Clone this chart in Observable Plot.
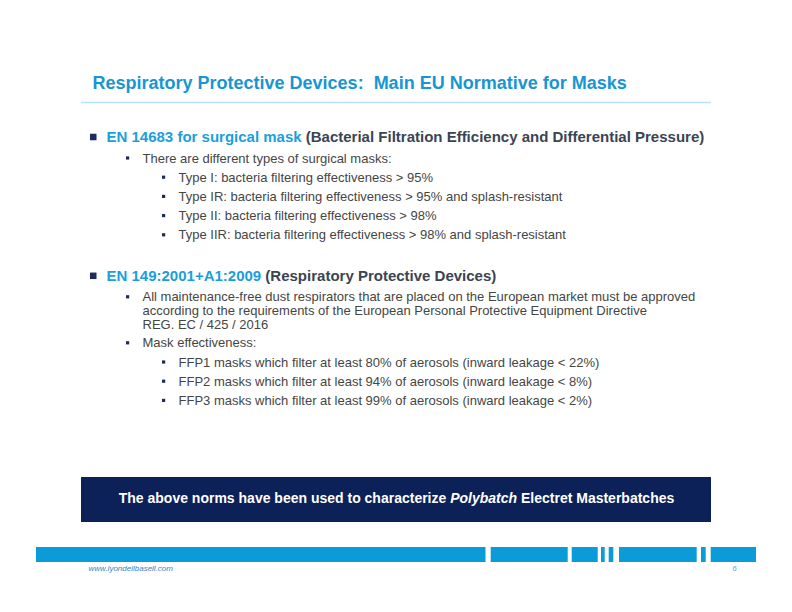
<!DOCTYPE html>
<html>
<head>
<meta charset="utf-8">
<script src="https://cdn.jsdelivr.net/npm/d3@7"></script>
<script src="https://cdn.jsdelivr.net/npm/@observablehq/plot@0.6"></script>
<style>
  html, body { margin: 0; padding: 0; background: #fff; }
  svg text { white-space: pre; }
</style>
</head>
<body>
<div id="chart"></div>
<script>
// ---- content ----
const title = "Respiratory Protective Devices:  Main EU Normative for Masks";
const norms = ["EN 14683 for surgical mask", "EN 149:2001+A1:2009"];
const normDescriptions = [" (Bacterial Filtration Efficiency and Differential Pressure)", " (Respiratory Protective Devices)"];
const bulletSections = [0, 0, 0, 0, 0, 1, 1, 1, 1, 1];
const bulletLevels = [2, 3, 3, 3, 3, 2, 2, 3, 3, 3];
const bulletTexts = [
  ["There are different types of surgical masks:"],
  ["Type I: bacteria filtering effectiveness > 95%"],
  ["Type IR: bacteria filtering effectiveness > 95% and splash-resistant"],
  ["Type II: bacteria filtering effectiveness > 98%"],
  ["Type IIR: bacteria filtering effectiveness > 98% and splash-resistant"],
  ["All maintenance-free dust respirators that are placed on the European market must be approved",
   "according to the requirements of the European Personal Protective Equipment Directive",
   "REG. EC / 425 / 2016"],
  ["Mask effectiveness:"],
  ["FFP1 masks which filter at least 80% of aerosols (inward leakage < 22%)"],
  ["FFP2 masks which filter at least 94% of aerosols (inward leakage < 8%)"],
  ["FFP3 masks which filter at least 99% of aerosols (inward leakage < 2%)"]
];
const bannerParts = ["The above norms have been used to characterize ", "Polybatch", " Electret Masterbatches"];
const bannerItalic = [false, true, false];
const footerUrl = "www.lyondellbasell.com";
const pageNumber = "6";
const footerBarBreaks = [[36, 485.5], [490.7, 567.7], [571.7, 597.7], [601, 604.7], [608.7, 613.3], [619, 696.7], [701, 705.7], [710.7, 756]];

// ---- styles / layout ----
const W = 792, H = 612;
const FONT = "'Liberation Sans', Arial, Helvetica, sans-serif";
const blue = "#1a9fdc", titleBlue = "#1796d3", navy = "#0c2157", darkText = "#3b4453", bodyText = "#454545";
const canvas = document.createElement("canvas");
const ctx = canvas.getContext("2d");
function measure(t, size, weight = "normal", style = "normal") {
  ctx.font = `${style} ${weight} ${size}px ${FONT}`;
  return ctx.measureText(t).width;
}

const headerSize = 15, bodySize = 13;
const textX = {1: 106, 2: 142, 3: 178};
const bulletX = {1: 90, 2: 126, 3: 162};

// vertical layout
const headers = [];
const lines = [];
const bullets = [];
let y = 137;
let prev = null;
for (let s = 0; s < norms.length; s++) {
  if (s > 0) y += 41;
  headers.push({y, s});
  bullets.push({x: bulletX[1], y, size: 6.5, fill: "#1f2a5a"});
  prev = {level: 1};
  for (let i = 0; i < bulletTexts.length; i++) {
    if (bulletSections[i] !== s) continue;
    const lvl = bulletLevels[i];
    let gap = 19.2;
    if (prev.level === 1) gap = 21;
    else if (prev.level === 2 && lvl === 2) gap = 18;
    y += gap;
    bullets.push({x: bulletX[lvl], y, size: 3.2, fill: "#1f2a5a"});
    bulletTexts[i].forEach((t, k) => {
      if (k > 0) y += 14;
      lines.push({x: textX[lvl], y, text: t});
    });
    prev = {level: lvl};
  }
}

// header segments
const headerNorm = headers.map(h => ({x: textX[1], y: h.y, text: norms[h.s]}));
const headerDesc = headers.map(h => ({x: textX[1] + measure(norms[h.s], headerSize, "bold"), y: h.y, text: normDescriptions[h.s]}));

// banner segments (centered)
const bannerSize = 14;
const bannerWidths = bannerParts.map((t, i) => measure(t, bannerSize, "bold", bannerItalic[i] ? "italic" : "normal"));
const bannerTotal = d3.sum(bannerWidths);
let bx = 396 - bannerTotal / 2;
const bannerSegs = bannerParts.map((t, i) => { const o = {x: bx, y: 498.5, text: t, italic: bannerItalic[i]}; bx += bannerWidths[i]; return o; });

const footerSegs = footerBarBreaks.map(([a, b]) => ({x1: a, x2: b}));

const chart = Plot.plot({
  width: W, height: H, margin: 0,
  style: {background: "#fff", fontFamily: FONT},
  x: {domain: [0, W], range: [0, W], axis: null},
  y: {domain: [0, H], range: [0, H], axis: null},
  marks: [
    // title
    Plot.text([title], {x: 92, y: 83, text: d => d, textAnchor: "start", fill: titleBlue, fontWeight: "bold", fontSize: 18, fontFamily: FONT}),
    Plot.ruleY([102], {x1: 81, x2: 711, stroke: "#b5e2f6", strokeWidth: 1.6}),
    // bullets
    Plot.rect(bullets, {x1: d => d.x, x2: d => d.x + d.size, y1: d => d.y - d.size / 2, y2: d => d.y + d.size / 2, fill: d => d.fill}),
    // headers
    Plot.text(headerNorm, {x: "x", y: "y", text: "text", textAnchor: "start", fill: blue, fontWeight: "bold", fontSize: headerSize, fontFamily: FONT}),
    Plot.text(headerDesc, {x: "x", y: "y", text: "text", textAnchor: "start", fill: darkText, fontWeight: "bold", fontSize: headerSize, fontFamily: FONT}),
    // body lines
    Plot.text(lines, {x: "x", y: "y", text: "text", textAnchor: "start", fill: bodyText, fontSize: bodySize, fontFamily: FONT}),
    // banner
    Plot.rect([0], {x1: 81, x2: 711, y1: 477, y2: 522, fill: navy}),
    Plot.text(bannerSegs.filter(d => !d.italic), {x: "x", y: "y", text: "text", textAnchor: "start", fill: "#fff", fontWeight: "bold", fontSize: bannerSize, fontFamily: FONT}),
    Plot.text(bannerSegs.filter(d => d.italic), {x: "x", y: "y", text: "text", textAnchor: "start", fill: "#fff", fontWeight: "bold", fontStyle: "italic", fontSize: bannerSize, fontFamily: FONT}),
    // footer bar
    Plot.rect(footerSegs, {x1: "x1", x2: "x2", y1: 547, y2: 562, fill: "#0a9bd8"}),
    Plot.text([footerUrl], {x: 88, y: 568, text: d => d, textAnchor: "start", fill: "#3384c6", fontStyle: "italic", fontSize: 8, fontFamily: FONT}),
    Plot.text([pageNumber], {x: 734, y: 568, text: d => d, textAnchor: "middle", fill: "#4aa8e0", fontStyle: "italic", fontSize: 8, fontFamily: FONT})
  ]
});
document.getElementById("chart").appendChild(chart);
</script>
</body>
</html>
